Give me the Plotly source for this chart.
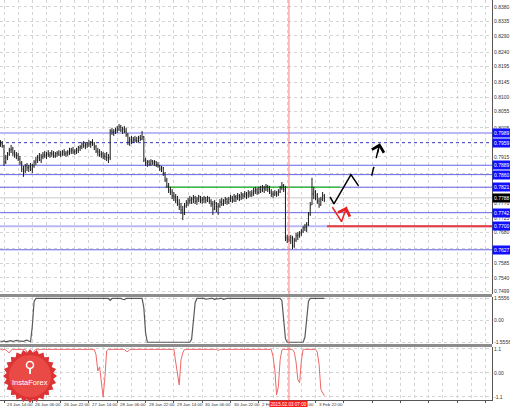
import math
import plotly.graph_objects as go

# ---------------- data (prices stored as price x 10 000) ----------------
FIRST_BAR = -2  # bar 0 = 23 Jan 14:00, hourly bars
HIGHS = [
    7967, 7964, 7952, 7921, 7930, 7943, 7952, 7946, 7936, 7930,
    7927, 7918, 7902, 7887, 7893, 7896, 7890, 7896, 7893, 7905,
    7915, 7921, 7927, 7924, 7930, 7933, 7930, 7936, 7930, 7936,
    7933, 7930, 7933, 7936, 7933, 7936, 7939, 7933, 7936, 7943,
    7943, 7946, 7939, 7943, 7949, 7952, 7961, 7964, 7958, 7961,
    7967, 7964, 7970, 7961, 7952, 7943, 7939, 7933, 7930, 7927,
    7930, 7924, 8001, 8005, 8001, 8005, 8011, 8017, 8014, 8008,
    8011, 8005, 7989, 7977, 7980, 7977, 7980, 7977, 7980, 7983,
    7995, 7980, 7912, 7905, 7905, 7908, 7905, 7905, 7902, 7899,
    7890, 7887, 7884, 7868, 7850, 7834, 7822, 7815, 7806, 7800,
    7794, 7784, 7772, 7763, 7772, 7781, 7788, 7794, 7791, 7797,
    7794, 7791, 7797, 7794, 7791, 7794, 7791, 7794, 7791, 7784,
    7778, 7781, 7775, 7772, 7784, 7788, 7784, 7791, 7788, 7791,
    7797, 7794, 7800, 7797, 7803, 7800, 7806, 7803, 7809, 7806,
    7812, 7809, 7812, 7819, 7822, 7819, 7822, 7825, 7828, 7825,
    7831, 7828, 7825, 7815, 7809, 7812, 7809, 7815, 7825, 7837,
    7831, 7825, 7673, 7670, 7673, 7670, 7664, 7679, 7682, 7685,
    7691, 7701, 7707, 7713, 7744, 7775, 7850, 7822, 7812, 7803,
    7788, 7791, 7806, 7800,
]
LOWS = [
    7946, 7943, 7887, 7893, 7905, 7918, 7927, 7918, 7912, 7908,
    7902, 7890, 7868, 7853, 7865, 7871, 7868, 7871, 7865, 7881,
    7890, 7896, 7902, 7896, 7908, 7912, 7908, 7915, 7912, 7915,
    7912, 7912, 7915, 7918, 7915, 7918, 7918, 7915, 7918, 7921,
    7924, 7924, 7921, 7924, 7927, 7933, 7939, 7943, 7939, 7943,
    7946, 7943, 7949, 7936, 7927, 7918, 7915, 7912, 7908, 7905,
    7902, 7896, 7905, 7983, 7980, 7986, 7989, 7995, 7992, 7986,
    7989, 7977, 7952, 7949, 7955, 7958, 7961, 7958, 7961, 7964,
    7967, 7899, 7887, 7884, 7887, 7887, 7890, 7887, 7884, 7881,
    7871, 7868, 7856, 7837, 7819, 7803, 7797, 7784, 7778, 7772,
    7763, 7750, 7738, 7719, 7735, 7757, 7763, 7769, 7769, 7772,
    7769, 7766, 7775, 7772, 7769, 7772, 7772, 7775, 7769, 7760,
    7735, 7750, 7744, 7735, 7757, 7763, 7763, 7769, 7766, 7769,
    7775, 7772, 7775, 7775, 7781, 7778, 7781, 7784, 7788, 7784,
    7788, 7791, 7791, 7794, 7800, 7797, 7800, 7803, 7806, 7803,
    7809, 7806, 7800, 7791, 7788, 7794, 7791, 7794, 7803, 7812,
    7806, 7654, 7648, 7651, 7645, 7629, 7633, 7651, 7657, 7664,
    7670, 7679, 7685, 7682, 7701, 7732, 7766, 7784, 7781, 7769,
    7757, 7763, 7778, 7775,
]
CLOSES = [
    7955, 7949, 7899, 7912, 7924, 7936, 7939, 7927, 7921, 7918,
    7908, 7896, 7877, 7871, 7887, 7881, 7884, 7877, 7887, 7899,
    7905, 7912, 7905, 7915, 7921, 7918, 7924, 7921, 7927, 7924,
    7918, 7924, 7927, 7921, 7924, 7930, 7924, 7927, 7930, 7933,
    7936, 7930, 7933, 7936, 7943, 7946, 7955, 7949, 7952, 7958,
    7955, 7961, 7955, 7946, 7933, 7930, 7921, 7924, 7918, 7915,
    7912, 7912, 7995, 7992, 7995, 7998, 8001, 8008, 7998, 8001,
    7995, 7983, 7961, 7967, 7964, 7970, 7967, 7964, 7974, 7970,
    7977, 7905, 7896, 7899, 7893, 7902, 7896, 7899, 7890, 7887,
    7877, 7881, 7862, 7843, 7825, 7812, 7806, 7794, 7791, 7781,
    7769, 7760, 7750, 7738, 7763, 7772, 7778, 7781, 7784, 7788,
    7778, 7784, 7791, 7781, 7784, 7788, 7781, 7788, 7778, 7769,
    7753, 7772, 7760, 7763, 7775, 7769, 7778, 7784, 7775, 7784,
    7788, 7781, 7791, 7788, 7794, 7791, 7797, 7794, 7800, 7797,
    7803, 7797, 7803, 7809, 7812, 7806, 7815, 7812, 7819, 7815,
    7822, 7815, 7806, 7800, 7797, 7803, 7800, 7806, 7819, 7825,
    7815, 7664, 7660, 7657, 7664, 7639, 7657, 7670, 7673, 7679,
    7685, 7695, 7698, 7704, 7738, 7766, 7800, 7806, 7794, 7778,
    7766, 7784, 7794, 7788,
]
FIRST_OPEN = 7960

# oscillator in the middle pane
OSC_GRAY = [
    -1.48, -1.50, -1.46, -1.52, -1.49, -1.45, -1.44, -1.50, -1.47, -1.42,
    -1.46, -1.49, -1.47, -1.50, -1.44, -1.41, -1.47, -1.52, -0.40, 1.35,
    1.5556, 1.5556, 1.5556, 1.5556, 1.5556, 1.5556, 1.5556, 1.5556, 1.5556, 1.5556,
    1.5556, 1.5556, 1.5556, 1.5556, 1.5556, 1.5556, 1.5556, 1.5556, 1.5556, 1.5556,
    1.5556, 1.5556, 1.5556, 1.5556, 1.5556, 1.5556, 1.5556, 1.5556, 1.5556, 1.5556,
    1.5556, 1.5556, 1.5556, 1.5556, 1.5556, 1.5556, 1.5556, 1.5556, 1.5556, 1.5556,
    1.5556, 1.5556, 1.42, 1.5556, 1.5556, 1.5556, 1.5556, 1.5556, 1.5556, 1.50,
    1.47, 1.5556, 1.5556, 1.5556, 1.5556, 1.5556, 1.5556, 1.5556, 1.5556, 1.5556,
    1.5556, 0.90, -0.90, -1.5556, -1.5556, -1.5556, -1.5556, -1.5556, -1.5556, -1.5556,
    -1.5556, -1.5556, -1.5556, -1.5556, -1.5556, -1.5556, -1.5556, -1.5556, -1.5556, -1.5556,
    -1.5556, -1.5556, -1.5556, -1.5556, -1.5556, -1.5556, -1.5556, -1.5556, -1.35, -0.10,
    1.25, 1.5556, 1.5556, 1.5556, 1.5556, 1.5556, 1.50, 1.53, 1.5556, 1.5556,
    1.5556, 1.48, 1.5556, 1.52, 1.5556, 1.5556, 1.50, 1.5556, 1.5556, 1.5556,
    1.5556, 1.5556, 1.5556, 1.5556, 1.5556, 1.5556, 1.5556, 1.5556, 1.5556, 1.5556,
    1.5556, 1.5556, 1.5556, 1.5556, 1.5556, 1.5556, 1.5556, 1.5556, 1.5556, 1.5556,
    1.5556, 1.5556, 1.5556, 1.5556, 1.5556, 1.5556, 1.5556, 1.5556, 1.5556, 1.40,
    0.20, -1.30, -1.5556, -1.5556, -1.5556, -1.5556, -1.5556, -1.5556, -1.5556, -1.5556,
    -1.5556, -1.5556, -1.20, 0.30, 1.35, 1.5556, 1.5556, 1.5556, 1.5556, 1.5556,
    1.5556, 1.5556, 1.5556, 1.5556,
]
# oscillator in the bottom pane
OSC_RED = [
    1.08, 1.06, 1.08, 1.07, 0.98, 0.92, 1.04, 1.08, 1.08, 1.08,
    1.08, 1.08, 1.08, 1.06, 1.08, 0.95, 0.62, 0.88, 0.70, 1.02,
    1.08, 1.08, 1.08, 1.08, 1.08, 1.08, 1.08, 1.08, 1.08, 1.08,
    1.08, 1.08, 1.08, 1.08, 1.08, 1.08, 1.08, 1.08, 1.08, 1.08,
    1.08, 1.08, 1.08, 1.08, 1.08, 1.08, 1.08, 1.08, 1.08, 1.08,
    1.08, 1.08, 1.08, 1.08, 0.83, 0.09, 0.28, -0.41, -1.10, -0.23,
    1.01, 1.08, 1.08, 1.08, 1.08, 1.08, 1.08, 1.08, 1.08, 1.08,
    1.08, 1.00, 0.98, 1.08, 1.08, 1.08, 1.08, 1.08, 1.08, 1.08,
    1.08, 1.08, 1.08, 1.08, 1.08, 1.08, 1.08, 1.08, 1.08, 1.08,
    1.08, 1.08, 1.08, 1.08, 1.08, 1.08, 1.08, 1.08, 1.08, 0.50,
    -0.14, -0.55, 0.60, 0.92, 1.08, 1.08, 1.08, 1.08, 1.08, 1.08,
    1.08, 1.08, 1.08, 1.08, 1.08, 1.08, 1.08, 1.08, 1.08, 1.08,
    1.08, 1.08, 1.08, 1.03, 1.08, 1.08, 1.08, 1.08, 1.08, 1.08,
    1.08, 1.08, 1.08, 1.08, 1.08, 1.08, 1.08, 1.08, 1.08, 1.08,
    1.08, 1.08, 1.08, 1.08, 1.08, 1.08, 1.08, 1.08, 1.08, 1.08,
    1.08, 1.08, 1.08, 1.08, 0.75, 0.14, -1.00, -0.63, 0.60, 1.05,
    1.08, 1.08, 1.08, 1.08, 1.08, 1.08, 0.95, 0.50, -0.30, -0.45,
    0.55, 1.08, 1.08, 1.08, 1.08, 1.08, 1.08, 1.08, 1.08, 0.95,
    0.40, -0.75, -0.92, -1.05,
]

X_LABEL_BARS = [0, 16, 32, 48, 64, 80, 96, 112, 128, 144, 160, 176]
X_LABELS = ["23 Jan 14:00", "26 Jan 06:00", "26 Jan 22:00", "27 Jan 14:00",
            "28 Jan 06:00", "28 Jan 22:00", "29 Jan 14:00", "30 Jan 06:00",
            "30 Jan 22:00", "2 Feb 14:00", "3 Feb 06:00", "3 Feb 22:00"]
MARKER_BAR = 161
MARKER_LABEL = "2015.02.03 07:00"

PRICE_TICKS = [0.8380, 0.8335, 0.8290, 0.8240, 0.8195, 0.8145, 0.8100, 0.8055,
               0.8005, 0.7960, 0.7915, 0.7865, 0.7820, 0.7770, 0.7725, 0.7680,
               0.7630, 0.7585, 0.7540, 0.7499]
LEVELS_LIGHT = [0.7989, 0.7700]
LEVELS_DOTTED = [0.7959]
LEVELS_BLUE = [0.7889, 0.7860, 0.7821, 0.7742, 0.7627]
GREEN_LEVEL = 0.7821
GREEN_BARS = [91, 190]
RED_LEVEL = 0.7700
RED_LEVEL_START = 182.5
BID = 0.7788

ARROW_SOLID_BARS = [184.2, 186.4, 196.0, 200.3]
ARROW_SOLID_PRICES = [0.7791, 0.7769, 0.7860, 0.7825]
ARROW_DASH_BARS = [207.7, 212.4]
ARROW_DASH_PRICES = [0.7857, 0.7957]
ARROW_RED_BARS = [185.5, 190.7, 193.6]
ARROW_RED_PRICES = [0.7759, 0.7714, 0.7760]

# ---------------- figure ----------------
n = len(CLOSES)
bars = list(range(FIRST_BAR, FIRST_BAR + n))
highs = [v / 10000 for v in HIGHS]
lows = [v / 10000 for v in LOWS]
closes = [v / 10000 for v in CLOSES]
opens = [FIRST_OPEN / 10000] + closes[:-1]

W, H = 510, 407
ML, MR, MT, MB = 0, 18, 0, 7
PW, PH = W - ML - MR, H - MT - MB
X_RANGE = [-2.26, 275.7]
Y_MAIN = [0.74899, 0.84013]
Y_OSC1 = [-1.68, 1.66]
Y_OSC2 = [-1.24, 1.19]

def py(p):  # pixel row -> paper y
    return 1 - p / PH

FONT = "Liberation Sans"
TXT = dict(family=FONT, size=5, color="#333333")
XTXT = dict(family=FONT, size=4.4, color="#333333")
GRID = dict(showgrid=True, gridcolor="#d4d4d4", griddash="dot", gridwidth=1, zeroline=False,
            automargin=False)
YAX = dict(side="right", anchor="x", tickfont=TXT, ticks="",
           showline=True, linecolor="#555555", linewidth=1, **GRID)

fig = go.Figure()
fig.add_trace(go.Ohlc(x=bars, open=opens, high=highs, low=lows, close=closes,
                      increasing=dict(line=dict(color="#1a1a1a", width=1)),
                      decreasing=dict(line=dict(color="#1a1a1a", width=1)),
                      tickwidth=0.3, xaxis="x", yaxis="y", hoverinfo="skip"))
fig.add_trace(go.Scatter(x=bars, y=OSC_GRAY, mode="lines",
                         line=dict(color="#5a5a5a", width=1.2), xaxis="x", yaxis="y2"))
fig.add_trace(go.Scatter(x=bars, y=OSC_RED, mode="lines",
                         line=dict(color="#f06868", width=1), xaxis="x", yaxis="y3"))

# forecast arrows
fig.add_trace(go.Scatter(x=ARROW_SOLID_BARS, y=ARROW_SOLID_PRICES, mode="lines",
                         line=dict(color="black", width=1.5), xaxis="x", yaxis="y"))
fig.add_trace(go.Scatter(x=ARROW_DASH_BARS, y=ARROW_DASH_PRICES, mode="lines",
                         line=dict(color="black", width=1.5, dash="dash"), xaxis="x", yaxis="y"))
fig.add_trace(go.Scatter(x=ARROW_RED_BARS, y=ARROW_RED_PRICES, mode="lines",
                         line=dict(color="#e82020", width=1.5), xaxis="x", yaxis="y"))

shapes = []
x0, x1 = X_RANGE
for lv in LEVELS_LIGHT:
    shapes.append(dict(type="line", xref="x", yref="y", x0=x0, x1=x1, y0=lv, y1=lv,
                       line=dict(color="#b8b8f4", width=2), layer="between"))
for lv in LEVELS_DOTTED:
    shapes.append(dict(type="line", xref="x", yref="y", x0=x0, x1=x1, y0=lv, y1=lv,
                       line=dict(color="#3c3cb8", width=1, dash="dot"), layer="between"))
for lv in LEVELS_BLUE:
    shapes.append(dict(type="line", xref="x", yref="y", x0=x0, x1=x1, y0=lv, y1=lv,
                       line=dict(color="#6464e6", width=1), layer="between"))
shapes.append(dict(type="line", xref="x", yref="y", x0=x0, x1=x1, y0=BID, y1=BID,
                   line=dict(color="#c8c8c8", width=1), layer="between"))
shapes.append(dict(type="line", xref="x", yref="y", x0=GREEN_BARS[0], x1=GREEN_BARS[1],
                   y0=GREEN_LEVEL, y1=GREEN_LEVEL, line=dict(color="#3cc03c", width=1.5),
                   layer="between"))
shapes.append(dict(type="line", xref="x", yref="y", x0=RED_LEVEL_START, x1=x1,
                   y0=RED_LEVEL, y1=RED_LEVEL, line=dict(color="#e83a3a", width=2)))
# time marker
shapes.append(dict(type="line", xref="x", yref="paper", x0=MARKER_BAR, x1=MARKER_BAR,
                   y0=0, y1=1, line=dict(color="#ff7a7a", width=1)))
# pane separators
for p in (295.5, 345.5):
    shapes.append(dict(type="line", xref="paper", yref="paper", x0=0, x1=1.0,
                       y0=py(p), y1=py(p), line=dict(color="#8c8c8c", width=3)))

# logo (starburst)
cx, cy = 30, 376
pts = []
for k in range(48):
    r = 27 if k % 2 == 0 else 23.5
    a = math.pi * k / 24
    pts.append(((cx + r * math.cos(a)) / PW, py(cy + r * math.sin(a))))
path = "M " + " L ".join(f"{a:.5f},{b:.5f}" for a, b in pts) + " Z"
shapes.append(dict(type="path", xref="paper", yref="paper", path=path,
                   fillcolor="#dc3434", line=dict(width=0)))
shapes.append(dict(type="circle", xref="paper", yref="paper",
                   x0=(cx - 21) / PW, x1=(cx + 21) / PW, y0=py(cy + 21), y1=py(cy - 21),
                   fillcolor="#ea4a46", line=dict(width=0)))
shapes.append(dict(type="circle", xref="paper", yref="paper",
                   x0=(cx - 3.5) / PW, x1=(cx + 3.5) / PW, y0=py(368.5), y1=py(361.5),
                   fillcolor="rgba(0,0,0,0)", line=dict(color="white", width=1.5)))
shapes.append(dict(type="line", xref="paper", yref="paper",
                   x0=cx / PW, x1=cx / PW, y0=py(368), y1=py(374),
                   line=dict(color="white", width=2)))

ann = []
def price_box(val, bg, fg="white"):
    ann.append(dict(x=1, xref="paper", xanchor="left", xshift=0, y=val, yref="y",
                    text=f"{val:.4f}", showarrow=False, bgcolor=bg, borderpad=1,
                    font=dict(family=FONT, size=5, color=fg)))
for lv in LEVELS_LIGHT + LEVELS_DOTTED + LEVELS_BLUE:
    price_box(lv, "#1010ff")
price_box(BID, "#000000")

for b, t in zip(X_LABEL_BARS, X_LABELS):
    ann.append(dict(x=b, xref="x", y=0, yref="paper", yanchor="top", xanchor="left",
                    xshift=1, yshift=0, text=t, showarrow=False, font=XTXT))
ann.append(dict(x=MARKER_BAR, xref="x", y=0, yref="paper", yanchor="top", xanchor="center",
                yshift=0, text=MARKER_LABEL, showarrow=False, bgcolor="#ff1a1a",
                borderpad=0.5, font=dict(family=FONT, size=4.6, color="white")))

# arrow heads
def head(bx, by, color):
    ann.append(dict(x=bx[-1], y=by[-1], xref="x", yref="y", axref="x", ayref="y",
                    ax=bx[-1] - 0.35 * (bx[-1] - bx[-2]), ay=by[-1] - 0.35 * (by[-1] - by[-2]),
                    showarrow=True, arrowhead=4, arrowsize=1.6, arrowwidth=1.5,
                    arrowcolor=color, text=""))
head(ARROW_SOLID_BARS, ARROW_SOLID_PRICES, "black")
head(ARROW_DASH_BARS, ARROW_DASH_PRICES, "black")
head(ARROW_RED_BARS, ARROW_RED_PRICES, "#e82020")

ann.append(dict(x=cx / PW, y=py(382), xref="paper", yref="paper", text="InstaForex",
                xanchor="center", yanchor="middle",
                showarrow=False, font=dict(family=FONT, size=7.5, color="white")))

fig.update_layout(
    width=W, height=H, margin=dict(l=ML, r=MR, t=MT, b=MB, pad=0, autoexpand=False),
    paper_bgcolor="white", plot_bgcolor="white", showlegend=False,
    hovermode=False, shapes=shapes, annotations=ann,
    xaxis=dict(range=X_RANGE, anchor="y3", tick0=0, dtick=16, showticklabels=False,
               ticks="outside", ticklen=2, tickcolor="#555555",
               showline=True, linecolor="#555555", linewidth=1,
               minor=dict(dtick=8, tick0=0, showgrid=True, gridcolor="#d4d4d4", griddash="dot"),
               rangeslider=dict(visible=False), **GRID),
    yaxis=dict(domain=[py(294), 1], range=Y_MAIN,
               tickvals=PRICE_TICKS, ticktext=[f"{v:.4f}" for v in PRICE_TICKS], **YAX),
    yaxis2=dict(domain=[py(344), py(297)], range=Y_OSC1,
                tickvals=[1.5556, 0, -1.5556], ticktext=["1.5556", "0.00", "-1.5556"], **YAX),
    yaxis3=dict(domain=[0, py(347)], range=Y_OSC2,
                tickvals=[1.1, 0, -1.1], ticktext=["1.1", "0.00", "-1.1"], **YAX),
)

fig.write_html("out.html", config={"displayModeBar": False},
               post_script="document.body.style.margin='0px';"
                           "document.body.style.padding='0px';"
                           "document.body.style.overflow='hidden';")
